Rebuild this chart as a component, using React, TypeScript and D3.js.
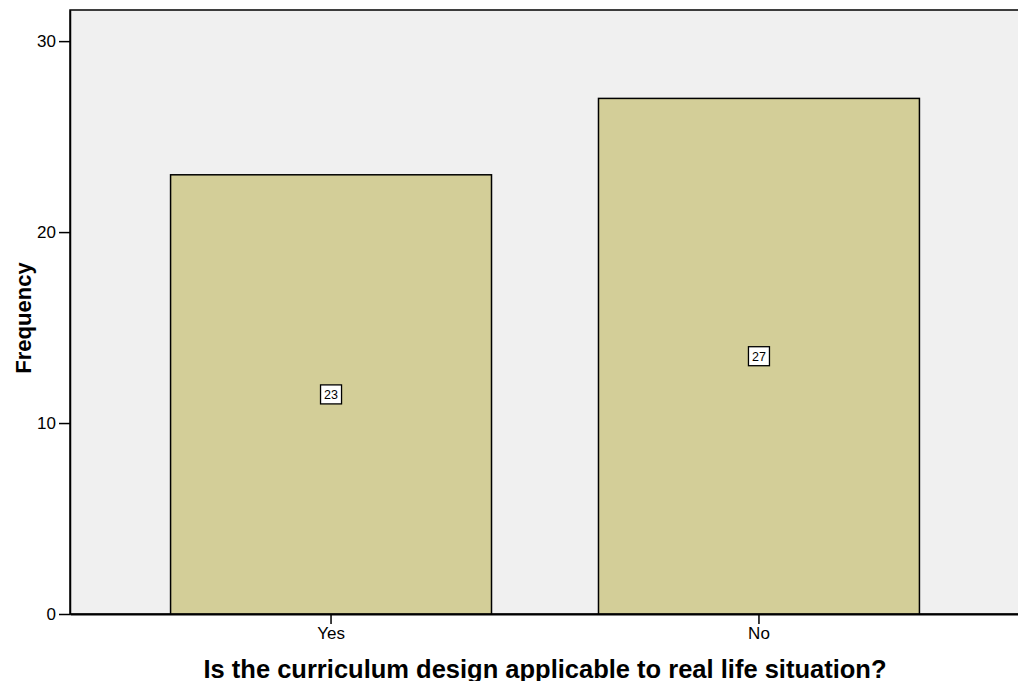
import { useEffect, useRef } from 'react';
import * as d3 from 'd3';

const categories = ['Yes', 'No'];
const frequencies = [23, 27];
const yTicks = [0, 10, 20, 30];

const App = () => {
  const svgRef = useRef<SVGSVGElement>(null);

  useEffect(() => {
    const svg = d3.select(svgRef.current);
    svg.selectAll('*').remove();

    const width = 1026;
    const height = 689;
    const plot = { left: 70, top: 10, right: 1020, bottom: 614 };
    const font = '"Liberation Sans", Arial, sans-serif';

    svg.attr('width', width).attr('height', height);

    const x = d3
      .scaleBand()
      .domain(categories)
      .range([plot.left, plot.right])
      .paddingInner(0.25)
      .paddingOuter(0.235);

    const y = d3
      .scaleLinear()
      .domain([0, 31.63])
      .range([plot.bottom, plot.top]);

    // plot background
    svg
      .append('rect')
      .attr('x', plot.left)
      .attr('y', plot.top)
      .attr('width', plot.right - plot.left)
      .attr('height', plot.bottom - plot.top)
      .attr('fill', '#f0f0f0')
      .attr('stroke', '#000')
      .attr('stroke-width', 1.5);

    // bars
    const bars = svg.append('g');
    categories.forEach((c, i) => {
      const v = frequencies[i];
      bars
        .append('rect')
        .attr('x', x(c)!)
        .attr('y', y(v))
        .attr('width', x.bandwidth())
        .attr('height', y(0) - y(v))
        .attr('fill', '#d3ce98')
        .attr('stroke', '#000')
        .attr('stroke-width', 1.5);

      // value label in a small box
      const cx = x(c)! + x.bandwidth() / 2;
      const cy = y(v / 2);
      bars
        .append('rect')
        .attr('x', cx - 10.5)
        .attr('y', cy - 9.5)
        .attr('width', 21)
        .attr('height', 19)
        .attr('fill', '#fff')
        .attr('stroke', '#000')
        .attr('stroke-width', 1.3);
      bars
        .append('text')
        .attr('x', cx)
        .attr('y', cy + 4.5)
        .attr('text-anchor', 'middle')
        .attr('font-family', font)
        .attr('font-size', '12.5px')
        .attr('fill', '#000')
        .text(v);
    });

    // y axis
    const yAxis = svg
      .append('g')
      .attr('transform', `translate(${plot.left},0)`)
      .call(d3.axisLeft(y).tickValues(yTicks).tickSize(11).tickSizeOuter(0).tickPadding(3));
    yAxis.select('.domain').attr('stroke-width', 1.5);
    yAxis.selectAll('.tick line').attr('stroke-width', 1.5);
    yAxis
      .selectAll('.tick text')
      .attr('font-family', font)
      .attr('font-size', '17px')
      .attr('fill', '#000');

    // x axis
    const xAxis = svg
      .append('g')
      .attr('transform', `translate(0,${plot.bottom})`)
      .call(d3.axisBottom(x).tickSize(10).tickSizeOuter(0).tickPadding(3));
    xAxis.select('.domain').attr('stroke-width', 2);
    xAxis.selectAll('.tick line').attr('stroke-width', 1.5);
    xAxis
      .selectAll('.tick text')
      .attr('font-family', font)
      .attr('font-size', '17px')
      .attr('fill', '#000');

    // axis titles
    svg
      .append('text')
      .attr('transform', `translate(31,${(plot.top + plot.bottom) / 2 + 6}) rotate(-90)`)
      .attr('text-anchor', 'middle')
      .attr('font-family', font)
      .attr('font-size', '22px')
      .attr('font-weight', 'bold')
      .attr('fill', '#000')
      .text('Frequency');

    svg
      .append('text')
      .attr('x', (plot.left + plot.right) / 2)
      .attr('y', 678)
      .attr('text-anchor', 'middle')
      .attr('font-family', font)
      .attr('font-size', '25.5px')
      .attr('font-weight', 'bold')
      .attr('fill', '#000')
      .text('Is the curriculum design applicable to real life situation?');
  }, []);

  return (
    <div style={{ margin: -8 }}>
      <svg ref={svgRef} style={{ display: 'block' }}></svg>
    </div>
  );
};

export default App;
